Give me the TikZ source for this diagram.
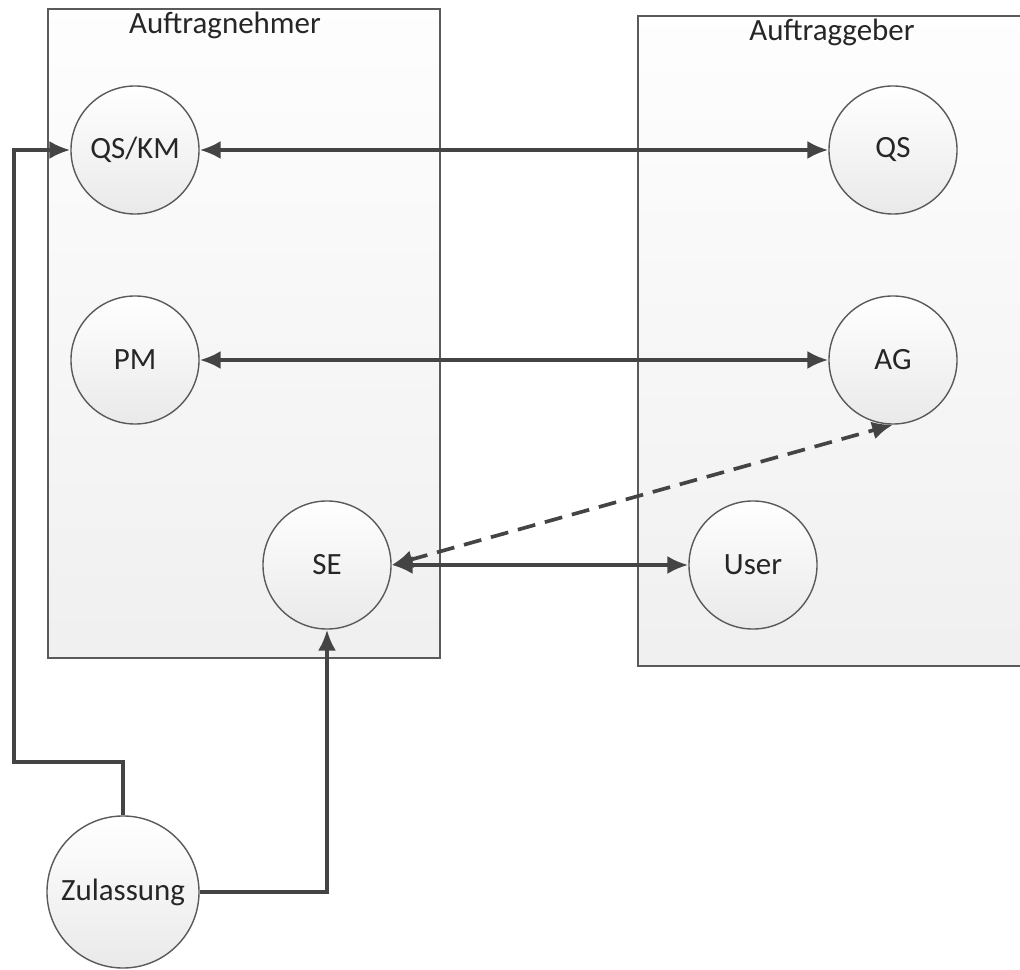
\documentclass[tikz,border=0pt]{standalone}
\usepackage{fontspec}
\setmainfont{Carlito}
\usetikzlibrary{positioning,arrows.meta}
\definecolor{linegray}{HTML}{444444}
\definecolor{framegray}{HTML}{5A5A5A}

\begin{document}
\begin{tikzpicture}[x=0.025cm,y=-0.025cm,>={Latex[length=0.52cm,width=0.45cm]},
        font=\fontsize{22}{26}\selectfont,
        role/.style={draw=framegray,line width=1pt,circle,minimum size=3.2cm,inner sep=0pt,
                     top color=white,bottom color=gray!17,text=black!85},
        party/.style={draw=framegray,line width=1.4pt,top color=gray!1,bottom color=gray!12},
        link/.style={draw=linegray,line width=2.6pt}]
        \clip (0,0) rectangle (1020,970);
        \useasboundingbox (0,0) rectangle (1020,970);
        % the two parties
        \draw[party] (48,9) rectangle (440,658);
        \draw[party] (638,16) rectangle (1034,666);
        \node[text=black!85] (an) at (225,25) {Auftragnehmer};
        \node[text=black!85] (ag) at (832,32) {Auftraggeber};
        % roles
        \node[role] (qskm) at (135,150) {QS/KM};
        \node[role] (pm) at (135,360) {PM};
        \node[role] (se) at (327,565) {SE};
        \node[role] (qs) at (893,150) {QS};
        \node[role] (agr) at (893,360) {AG};
        \node[role] (user) at (753,565) {User};
        \node[role,minimum size=3.8cm] (zul) at (123,892) {Zulassung};
        \coordinate (bend) at (14,762);
        % links
        \draw[link,<->] (qskm) -- (qs);
        \draw[link,<->] (pm) -- (agr);
        \draw[link,<->] (se) -- (user);
        \draw[link,<->,dashed,dash pattern=on 0.45cm off 0.25cm] (se.east) -- (agr.south);
        \draw[link,->] (zul.east) -| (se.south);
        \draw[link,->] (zul.north) |- (bend) |- (qskm.west);
    \end{tikzpicture}
\end{document}
